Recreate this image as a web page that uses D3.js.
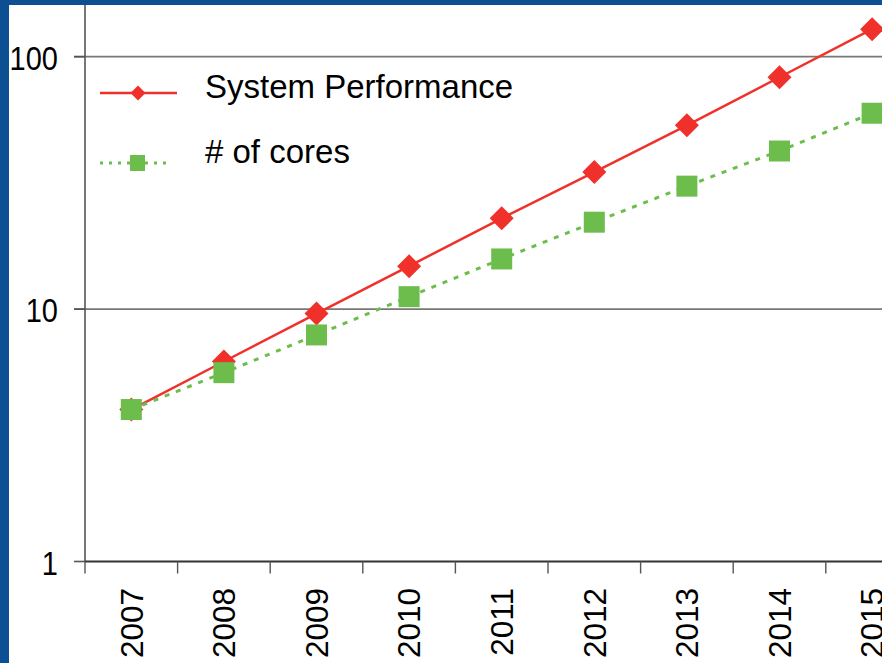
<!DOCTYPE html>
<html>
<head>
<meta charset="utf-8">
<script src="https://cdn.jsdelivr.net/npm/d3@7"></script>
<style>
  html, body { margin: 0; padding: 0; background: #ffffff; }
  svg { display: block; }
  text { font-family: "Liberation Sans", Arial, sans-serif; fill: #000; }
</style>
</head>
<body>
<svg id="chart" width="882" height="663"></svg>
<script>
const years = ["2007", "2008", "2009", "2010", "2011", "2012", "2013", "2014", "2015"];
const systemPerformance = [4.0, 6.2, 9.6, 14.8, 22.9, 34.9, 53.5, 82.9, 128.5];
const numCores = [4.0, 5.6, 7.9, 11.2, 15.8, 22.1, 30.7, 42.3, 59.7];
const yTicks = [1, 10, 100];
const seriesNames = ["System Performance", "# of cores"];

const svg = d3.select("#chart");
const W = 882, H = 663;

// slide background frame (blue)
svg.append("rect").attr("x", 0).attr("y", 0).attr("width", W).attr("height", H).attr("fill", "#0d4f93");
svg.append("rect").attr("x", 9).attr("y", 5).attr("width", W - 9).attr("height", H - 5).attr("fill", "#ffffff");

const x = d3.scaleBand().domain(years).range([85, 85 + 92.6 * years.length]).padding(0);
const y = d3.scaleLog().domain([1, 100]).range([561.5, 56.7]);
const cx = d => x(d) + x.bandwidth() / 2;

// gridlines at 10 and 100
svg.append("g").selectAll("line").data(yTicks.filter(t => t > 1)).join("line")
  .attr("x1", 74).attr("x2", W)
  .attr("y1", d => y(d)).attr("y2", d => y(d))
  .attr("stroke", "#777").attr("stroke-width", 1.7);

// y axis line + ticks
svg.append("line").attr("x1", 85).attr("x2", 85).attr("y1", 5).attr("y2", y(1))
  .attr("stroke", "#555").attr("stroke-width", 1.6);
svg.append("g").selectAll("line").data(yTicks).join("line")
  .attr("x1", 74).attr("x2", 85)
  .attr("y1", d => y(d)).attr("y2", d => y(d))
  .attr("stroke", "#555").attr("stroke-width", 1.6);
svg.append("g").selectAll("text").data(yTicks).join("text")
  .attr("transform", d => `translate(58,${y(d) + 1}) scale(1,1.15)`)
  .attr("text-anchor", "end")
  .attr("dy", "0.36em")
  .attr("font-size", "29px")
  .text(d => d3.format("d")(d));

// x axis line + ticks
svg.append("line").attr("x1", 85).attr("x2", W).attr("y1", y(1)).attr("y2", y(1))
  .attr("stroke", "#333").attr("stroke-width", 1.8);
svg.append("g").selectAll("line").data(years).join("line")
  .attr("x1", d => x(d)).attr("x2", d => x(d))
  .attr("y1", y(1)).attr("y2", y(1) + 12)
  .attr("stroke", "#555").attr("stroke-width", 1.4);
svg.append("g").selectAll("text").data(years).join("text")
  .attr("transform", d => `translate(${cx(d)},588) rotate(-90)`)
  .attr("text-anchor", "end")
  .attr("dy", "0.36em")
  .attr("font-size", "31.5px")
  .text(d => d);

const red = "#f0312b", green = "#6cbd4c";

const perfData = years.map((yr, i) => ({ yr, v: systemPerformance[i] }));
const coreData = years.map((yr, i) => ({ yr, v: numCores[i] }));
const line = d3.line().x(d => cx(d.yr)).y(d => y(d.v));

// System Performance
svg.append("path").datum(perfData).attr("d", line)
  .attr("fill", "none").attr("stroke", red).attr("stroke-width", 2.5);
const diamond = d3.symbol().type(d3.symbolSquare).size(24 * 24 / 2);
svg.append("g").selectAll("path").data(perfData).join("path")
  .attr("d", diamond)
  .attr("transform", d => `translate(${cx(d.yr)},${y(d.v)}) rotate(45)`)
  .attr("fill", red);

// # of cores
svg.append("path").datum(coreData).attr("d", line)
  .attr("fill", "none").attr("stroke", green).attr("stroke-width", 3)
  .attr("stroke-dasharray", "5,7");
svg.append("g").selectAll("rect").data(coreData).join("rect")
  .attr("x", d => cx(d.yr) - 10.5).attr("y", d => y(d.v) - 10.5)
  .attr("width", 21).attr("height", 21)
  .attr("fill", green);

// legend
const lg = svg.append("g");
lg.append("line").attr("x1", 100).attr("x2", 177).attr("y1", 93).attr("y2", 93)
  .attr("stroke", red).attr("stroke-width", 2.5);
lg.append("path").attr("d", d3.symbol().type(d3.symbolSquare).size(15 * 15 / 2))
  .attr("transform", "translate(138,93) rotate(45)").attr("fill", red);
lg.append("text").attr("x", 205).attr("y", 98).attr("font-size", "33px").text(seriesNames[0]);

lg.append("line").attr("x1", 100).attr("x2", 172).attr("y1", 163).attr("y2", 163)
  .attr("stroke", green).attr("stroke-width", 3).attr("stroke-dasharray", "3,6");
lg.append("rect").attr("x", 130).attr("y", 155).attr("width", 15).attr("height", 16).attr("fill", green);
lg.append("text").attr("x", 205).attr("y", 163).attr("font-size", "33px").text(seriesNames[1]);
</script>
</body>
</html>
